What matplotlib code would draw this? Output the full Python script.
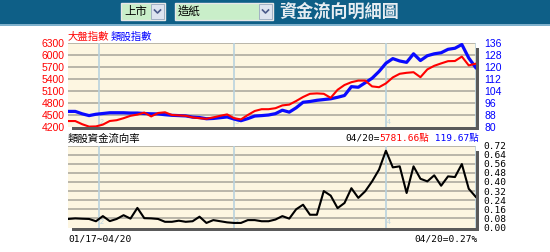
import matplotlib
matplotlib.use("Agg")
import matplotlib.pyplot as plt
from matplotlib.patches import Rectangle
from matplotlib.lines import Line2D
import numpy as np

W, H = 550, 252

# ---- data (one point per trading day, 01/17 ~ 04/20) ----
date_range = "01/17~04/20"
month_labels = ["2", "3", "4"]
month_pos = [4.4, 24.0, 46.0]   # trading-day index where each month starts

# 大盤指數 (red, left axis)
market = [4349, 4349, 4270, 4210, 4215, 4260, 4350, 4370, 4420, 4480,
          4510, 4560, 4465, 4550, 4568, 4500, 4490, 4480, 4440, 4420,
          4405, 4440, 4480, 4515, 4420, 4390, 4500, 4600, 4645, 4645,
          4670, 4740, 4760, 4850, 4950, 5030, 5040, 5030, 4930, 5130,
          5250, 5320, 5360, 5360, 5215, 5195, 5290, 5440, 5530, 5555,
          5570, 5445, 5640, 5730, 5790, 5846, 5850, 5960, 5740, 5781.66]

# 類股指數 (blue, right axis)
sector = [90.4, 90.4, 88.8, 87.6, 88.5, 89.0, 89.5, 89.5, 89.5, 89.3,
          89.3, 89.0, 88.8, 88.7, 88.2, 87.8, 87.6, 87.4, 86.6, 86.3,
          85.5, 85.7, 86.2, 86.7, 85.3, 84.2, 85.6, 87.3, 87.6, 88.0,
          88.9, 91.2, 89.9, 92.8, 96.5, 97.0, 97.8, 98.3, 98.8, 99.8,
          101.0, 106.9, 106.5, 109.5, 112.5, 117.0, 122.5, 125.6, 124.0, 123.1,
          128.8, 124.3, 127.5, 128.8, 129.5, 131.8, 132.5, 135.0, 126.0, 119.67]

# 類股資金流向率 (black, lower panel)
flow = [0.075, 0.080, 0.077, 0.075, 0.055, 0.100, 0.056, 0.075, 0.108, 0.078,
        0.172, 0.082, 0.080, 0.075, 0.050, 0.050, 0.060, 0.050, 0.055, 0.095,
        0.040, 0.065, 0.055, 0.045, 0.040, 0.040, 0.065, 0.065, 0.055, 0.055,
        0.070, 0.100, 0.078, 0.160, 0.200, 0.112, 0.112, 0.320, 0.280, 0.170,
        0.215, 0.345, 0.260, 0.318, 0.405, 0.508, 0.674, 0.528, 0.537, 0.303,
        0.537, 0.428, 0.405, 0.458, 0.367, 0.449, 0.443, 0.557, 0.340, 0.270]

last_date = "04/20"
market_ticks = np.arange(4200, 6301, 300)
sector_ticks = np.arange(80, 137, 8)
flow_ticks = np.arange(0, 0.721, 0.08)

CJK = ["Noto Sans CJK TC", "DejaVu Sans"]
MONO = ["DejaVu Sans Mono", "Noto Sans CJK TC"]
SANS = ["Liberation Sans", "DejaVu Sans"]
CREAM = "#fdf6e1"
GRID = "#a8a49a"
VLINE = "#b9d2de"
SHADOW = "#5a5a5a"


def fx(x):
    return x / W


def fy(y):
    return 1 - y / H


def box(x0, y0, x1, y1, **kw):
    return Rectangle((fx(x0), fy(y1)), fx(x1) - fx(x0), fy(y0) - fy(y1),
                     transform=fig.transFigure, **kw)


fig = plt.figure(figsize=(5.5, 2.52), dpi=100)
fig.patch.set_facecolor("white")

# ---- header band ----
fig.patches.append(box(0, 0, 550, 24, facecolor="#0e5f87", edgecolor="none"))
fig.patches.append(box(0, 24, 550, 26, facecolor="#7fb1cc", edgecolor="none"))


def dropdown(x0, x1, label):
    fig.patches.append(box(x0, 3, x1, 20, facecolor="#c9eec9",
                           edgecolor="#e8e8e8", linewidth=1))
    fig.patches.append(box(x1 - 14, 4, x1 - 1, 19, facecolor="#dde4f0",
                           edgecolor="#9aa8c0", linewidth=0.6))
    cx = x1 - 7.5
    fig.lines.append(Line2D([fx(cx - 3), fx(cx), fx(cx + 3)],
                            [fy(10), fy(13), fy(10)], transform=fig.transFigure,
                            color="#4a5a8a", linewidth=1.2))
    fig.text(fx(x0 + 3), fy(11.5), label, family=CJK, fontsize=8.2,
             color="black", va="center", ha="left")


dropdown(121, 165, "上市")
dropdown(175, 273, "造紙")
fig.text(fx(279), fy(12), "資金流向明細圖", family=CJK, fontsize=12.3,
         color="#e6edf2", va="center", ha="left", fontweight="bold")

n = len(market)
xs = np.arange(n)
L, R = 68, 476


def make_axes(top, bottom):
    return fig.add_axes([fx(L), fy(bottom), fx(R) - fx(L), fy(top) - fy(bottom)])


def shadow(top, bottom):
    fig.patches.append(box(L + 4, bottom, R + 3, bottom + 3,
                           facecolor=SHADOW, edgecolor="none"))
    fig.patches.append(box(R, top + 5, R + 3, bottom + 3,
                           facecolor=SHADOW, edgecolor="none"))


def style(ax):
    for s in ax.spines.values():
        s.set_visible(False)
    ax.set_xlim(-0.05, n - 1 + 0.05)
    ax.set_xticks([])


def month_lines(ax, ticks, label_y):
    for t in ticks[1:]:
        ax.axhline(t, color=GRID, linewidth=1.1, zorder=1)
    for p, lab in zip(month_pos, month_labels):
        ax.axvline(p, color=VLINE, linewidth=1.2, zorder=1)
        ax.text(p + 0.15, label_y, lab, color=VLINE, fontsize=5,
                family=SANS, va="bottom", ha="left")
    ax.axvline(n - 1, color=VLINE, linewidth=1.2, zorder=1)


# ---- upper panel: indices ----
shadow(43, 127)
ax1 = make_axes(43, 127)       # red, left scale (on top)
style(ax1)
ax2 = ax1.twinx()              # blue, right scale (below)
style(ax2)
ax1.set_zorder(ax2.get_zorder() + 1)
ax1.patch.set_visible(False)
ax2.patch.set_visible(True)
ax2.patch.set_facecolor(CREAM)

ax1.set_ylim(market_ticks[0], market_ticks[-1])
ax2.set_ylim(sector_ticks[0], sector_ticks[-1])
month_lines(ax2, sector_ticks, sector_ticks[0] + 1)

ax2.plot(xs, sector, color="#0a0aff", linewidth=2.3, zorder=3)
ax1.plot(xs, market, color="#ff0000", linewidth=1.5, zorder=4)

ax1.set_yticks(market_ticks)
ax1.set_yticklabels([str(t) for t in market_ticks], family=SANS, fontsize=7.5,
                    color="#ff0000")
ax1.tick_params(axis="y", length=0, pad=2.5)
ax2.set_yticks(sector_ticks)
ax2.set_yticklabels([str(t) for t in sector_ticks], family=SANS, fontsize=7.5,
                    color="#0000ff")
ax2.tick_params(axis="y", length=0, pad=6)

fig.text(fx(68), fy(37), "大盤指數", family=CJK, fontsize=7.5, color="#ff0000",
         va="center", ha="left")
fig.text(fx(111), fy(37), "類股指數", family=CJK, fontsize=7.5, color="#0000ff",
         va="center", ha="left")

# ---- lower panel: money flow ----
shadow(145.5, 227.5)
ax3 = make_axes(145.5, 227.5)
style(ax3)
ax3.set_facecolor(CREAM)
ax3.set_ylim(flow_ticks[0], flow_ticks[-1])
month_lines(ax3, flow_ticks, 0.012)
ax3.plot(xs, flow, color="black", linewidth=1.5, zorder=3)
ax3.yaxis.tick_right()
ax3.set_yticks(flow_ticks)
ax3.set_yticklabels(["%.2f" % t for t in flow_ticks], family=MONO, fontsize=6.8,
                    color="black")
ax3.tick_params(axis="y", length=0, pad=5)

fig.text(fx(68), fy(139), "類股資金流向率", family=CJK, fontsize=7.5,
         color="black", va="center", ha="left")

# last-value caption with coloured parts, right-aligned
cap_y = fy(138)
t3 = fig.text(fx(479), cap_y, " %.2f點" % sector[-1], family=MONO, fontsize=6.8,
              color="#0000ff", va="center", ha="right")
t2 = fig.text(0, cap_y, "%.2f點" % market[-1], family=MONO, fontsize=6.8,
              color="#ff0000", va="center", ha="right")
t1 = fig.text(0, cap_y, last_date + "=", family=MONO, fontsize=6.8,
              color="black", va="center", ha="right")
fig.canvas.draw()
r = fig.canvas.get_renderer()
inv = fig.transFigure.inverted()
t2.set_position((inv.transform((t3.get_window_extent(r).x0, 0))[0], cap_y))
t1.set_position((inv.transform((t2.get_window_extent(r).x0, 0))[0], cap_y))

fig.text(fx(68), fy(238.5), date_range, family=MONO, fontsize=6.8,
         color="black", va="center", ha="left")
fig.text(fx(478), fy(238.5), "%s=%.2f%%" % (last_date, flow[-1]), family=MONO,
         fontsize=6.8, color="black", va="center", ha="right")

fig.savefig("out.png", dpi=100, facecolor="white")
